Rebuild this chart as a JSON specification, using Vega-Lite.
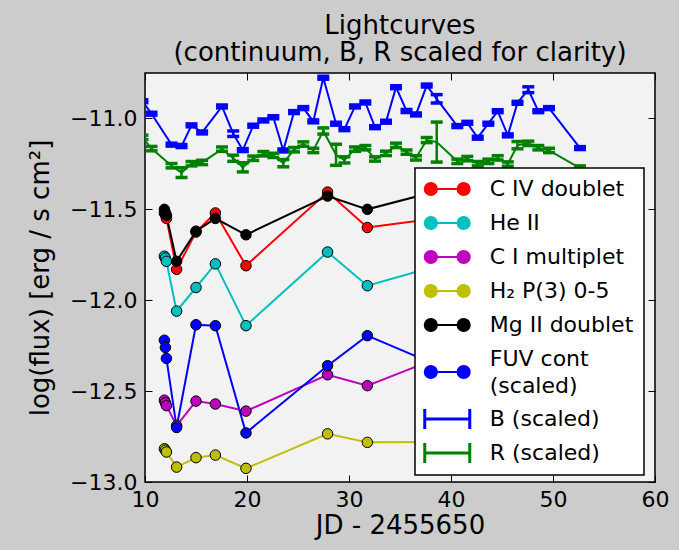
{
  "$schema": "https://vega.github.io/schema/vega-lite/v6.json",
  "width": 510,
  "height": 409,
  "autosize": {"type": "none"},
  "padding": {"left": 145, "top": 73, "right": 24, "bottom": 68},
  "background": "#cccccc",
  "title": {
    "text": ["Lightcurves", "(continuum, B, R scaled for clarity)"],
    "fontSize": 26,
    "fontWeight": "normal",
    "font": "DejaVu Sans",
    "color": "black",
    "anchor": "middle",
    "offset": 7,
    "lineHeight": 27
  },
  "config": {
    "font": "DejaVu Sans",
    "view": {"stroke": "black", "strokeWidth": 1.5, "fill": "#f2f2f2"},
    "axis": {
      "labelFont": "DejaVu Sans",
      "labelFontSize": 22,
      "labelColor": "black",
      "labelFlush": false,
      "labelOverlap": false,
      "labelBound": false,
      "titleFont": "DejaVu Sans",
      "titleFontSize": 26,
      "titleFontWeight": "normal",
      "titleColor": "black",
      "tickColor": "black",
      "tickWidth": 1,
      "grid": false,
      "domain": false
    }
  },
  "datasets": {
    "lines": [
      {"s": "C IV doublet", "jd": 11.9, "f": -11.52},
      {"s": "C IV doublet", "jd": 12.0, "f": -11.53},
      {"s": "C IV doublet", "jd": 12.1, "f": -11.55},
      {"s": "C IV doublet", "jd": 13.1, "f": -11.83},
      {"s": "C IV doublet", "jd": 15.0, "f": -11.625},
      {"s": "C IV doublet", "jd": 16.9, "f": -11.52},
      {"s": "C IV doublet", "jd": 19.9, "f": -11.81},
      {"s": "C IV doublet", "jd": 27.9, "f": -11.405},
      {"s": "C IV doublet", "jd": 31.8, "f": -11.6},
      {"s": "C IV doublet", "jd": 40.0, "f": -11.54},
      {"s": "He II", "jd": 11.9, "f": -11.758},
      {"s": "He II", "jd": 12.0, "f": -11.768},
      {"s": "He II", "jd": 12.1, "f": -11.786},
      {"s": "He II", "jd": 13.1, "f": -12.06},
      {"s": "He II", "jd": 15.0, "f": -11.93},
      {"s": "He II", "jd": 16.9, "f": -11.8},
      {"s": "He II", "jd": 19.9, "f": -12.14},
      {"s": "He II", "jd": 27.9, "f": -11.735},
      {"s": "He II", "jd": 31.8, "f": -11.92},
      {"s": "He II", "jd": 40.0, "f": -11.79},
      {"s": "C I multiplet", "jd": 11.9, "f": -12.55},
      {"s": "C I multiplet", "jd": 12.0, "f": -12.564},
      {"s": "C I multiplet", "jd": 12.1, "f": -12.58},
      {"s": "C I multiplet", "jd": 13.1, "f": -12.69},
      {"s": "C I multiplet", "jd": 15.0, "f": -12.555},
      {"s": "C I multiplet", "jd": 16.9, "f": -12.571},
      {"s": "C I multiplet", "jd": 19.9, "f": -12.61},
      {"s": "C I multiplet", "jd": 27.9, "f": -12.41},
      {"s": "C I multiplet", "jd": 31.8, "f": -12.47},
      {"s": "C I multiplet", "jd": 40.0, "f": -12.29},
      {"s": "H₂ P(3) 0-5", "jd": 11.9, "f": -12.817},
      {"s": "H₂ P(3) 0-5", "jd": 12.0, "f": -12.825},
      {"s": "H₂ P(3) 0-5", "jd": 12.1, "f": -12.835},
      {"s": "H₂ P(3) 0-5", "jd": 13.1, "f": -12.918},
      {"s": "H₂ P(3) 0-5", "jd": 15.0, "f": -12.866},
      {"s": "H₂ P(3) 0-5", "jd": 16.9, "f": -12.852},
      {"s": "H₂ P(3) 0-5", "jd": 19.9, "f": -12.925},
      {"s": "H₂ P(3) 0-5", "jd": 27.9, "f": -12.735},
      {"s": "H₂ P(3) 0-5", "jd": 31.8, "f": -12.782},
      {"s": "H₂ P(3) 0-5", "jd": 40.0, "f": -12.78},
      {"s": "Mg II doublet", "jd": 11.9, "f": -11.5},
      {"s": "Mg II doublet", "jd": 12.0, "f": -11.518},
      {"s": "Mg II doublet", "jd": 12.1, "f": -11.533},
      {"s": "Mg II doublet", "jd": 13.1, "f": -11.786},
      {"s": "Mg II doublet", "jd": 15.0, "f": -11.62},
      {"s": "Mg II doublet", "jd": 16.9, "f": -11.55},
      {"s": "Mg II doublet", "jd": 19.9, "f": -11.64},
      {"s": "Mg II doublet", "jd": 27.9, "f": -11.427},
      {"s": "Mg II doublet", "jd": 31.8, "f": -11.5},
      {"s": "Mg II doublet", "jd": 40.0, "f": -11.38},
      {"s": "FUV cont (scaled)", "jd": 11.9, "f": -12.22},
      {"s": "FUV cont (scaled)", "jd": 12.0, "f": -12.26},
      {"s": "FUV cont (scaled)", "jd": 12.1, "f": -12.32},
      {"s": "FUV cont (scaled)", "jd": 13.1, "f": -12.7},
      {"s": "FUV cont (scaled)", "jd": 15.0, "f": -12.135},
      {"s": "FUV cont (scaled)", "jd": 16.9, "f": -12.14},
      {"s": "FUV cont (scaled)", "jd": 19.9, "f": -12.73},
      {"s": "FUV cont (scaled)", "jd": 27.9, "f": -12.36},
      {"s": "FUV cont (scaled)", "jd": 31.8, "f": -12.195},
      {"s": "FUV cont (scaled)", "jd": 40.0, "f": -12.39}
    ],
    "bands": [
      {"s": "B (scaled)", "jd": 9.75, "f": -10.905, "lo": -10.913, "hi": -10.897},
      {"s": "B (scaled)", "jd": 10.64, "f": -10.974, "lo": -10.982, "hi": -10.966},
      {"s": "B (scaled)", "jd": 12.6, "f": -11.144, "lo": -11.152, "hi": -11.136},
      {"s": "B (scaled)", "jd": 13.58, "f": -11.152, "lo": -11.16, "hi": -11.144},
      {"s": "B (scaled)", "jd": 14.56, "f": -11.038, "lo": -11.046, "hi": -11.03},
      {"s": "B (scaled)", "jd": 15.6, "f": -11.077, "lo": -11.085, "hi": -11.069},
      {"s": "B (scaled)", "jd": 17.55, "f": -10.934, "lo": -10.942, "hi": -10.926},
      {"s": "B (scaled)", "jd": 18.65, "f": -11.084, "lo": -11.099, "hi": -11.069},
      {"s": "B (scaled)", "jd": 19.59, "f": -11.174, "lo": -11.182, "hi": -11.166},
      {"s": "B (scaled)", "jd": 20.61, "f": -11.04, "lo": -11.048, "hi": -11.032},
      {"s": "B (scaled)", "jd": 21.6, "f": -11.011, "lo": -11.019, "hi": -11.003},
      {"s": "B (scaled)", "jd": 22.58, "f": -10.993, "lo": -11.001, "hi": -10.985},
      {"s": "B (scaled)", "jd": 23.56, "f": -11.176, "lo": -11.184, "hi": -11.168},
      {"s": "B (scaled)", "jd": 24.61, "f": -10.965, "lo": -10.973, "hi": -10.957},
      {"s": "B (scaled)", "jd": 25.52, "f": -10.943, "lo": -10.951, "hi": -10.935},
      {"s": "B (scaled)", "jd": 26.5, "f": -11.016, "lo": -11.024, "hi": -11.008},
      {"s": "B (scaled)", "jd": 27.48, "f": -10.776, "lo": -10.784, "hi": -10.768},
      {"s": "B (scaled)", "jd": 28.73, "f": -11.029, "lo": -11.037, "hi": -11.021},
      {"s": "B (scaled)", "jd": 29.55, "f": -11.059, "lo": -11.067, "hi": -11.051},
      {"s": "B (scaled)", "jd": 30.59, "f": -10.934, "lo": -10.942, "hi": -10.926},
      {"s": "B (scaled)", "jd": 31.6, "f": -10.912, "lo": -10.92, "hi": -10.904},
      {"s": "B (scaled)", "jd": 32.55, "f": -11.048, "lo": -11.056, "hi": -11.04},
      {"s": "B (scaled)", "jd": 33.63, "f": -11.018, "lo": -11.026, "hi": -11.01},
      {"s": "B (scaled)", "jd": 34.61, "f": -10.828, "lo": -10.836, "hi": -10.82},
      {"s": "B (scaled)", "jd": 35.64, "f": -10.959, "lo": -10.967, "hi": -10.951},
      {"s": "B (scaled)", "jd": 36.57, "f": -10.978, "lo": -10.986, "hi": -10.97},
      {"s": "B (scaled)", "jd": 37.62, "f": -10.819, "lo": -10.827, "hi": -10.811},
      {"s": "B (scaled)", "jd": 38.6, "f": -10.892, "lo": -10.915, "hi": -10.869},
      {"s": "B (scaled)", "jd": 40.62, "f": -11.042, "lo": -11.05, "hi": -11.034},
      {"s": "B (scaled)", "jd": 41.6, "f": -11.024, "lo": -11.032, "hi": -11.016},
      {"s": "B (scaled)", "jd": 42.62, "f": -11.106, "lo": -11.114, "hi": -11.098},
      {"s": "B (scaled)", "jd": 43.66, "f": -11.029, "lo": -11.037, "hi": -11.021},
      {"s": "B (scaled)", "jd": 44.58, "f": -10.96, "lo": -10.968, "hi": -10.952},
      {"s": "B (scaled)", "jd": 45.57, "f": -11.093, "lo": -11.101, "hi": -11.085},
      {"s": "B (scaled)", "jd": 46.52, "f": -10.914, "lo": -10.922, "hi": -10.906},
      {"s": "B (scaled)", "jd": 47.58, "f": -10.842, "lo": -10.858, "hi": -10.826},
      {"s": "B (scaled)", "jd": 48.56, "f": -10.96, "lo": -10.968, "hi": -10.952},
      {"s": "B (scaled)", "jd": 49.61, "f": -10.943, "lo": -10.951, "hi": -10.935},
      {"s": "B (scaled)", "jd": 52.65, "f": -11.163, "lo": -11.171, "hi": -11.155},
      {"s": "R (scaled)", "jd": 9.75, "f": -11.104, "lo": -11.116, "hi": -11.092},
      {"s": "R (scaled)", "jd": 10.64, "f": -11.166, "lo": -11.178, "hi": -11.154},
      {"s": "R (scaled)", "jd": 12.6, "f": -11.26, "lo": -11.272, "hi": -11.248},
      {"s": "R (scaled)", "jd": 13.58, "f": -11.298, "lo": -11.325, "hi": -11.271},
      {"s": "R (scaled)", "jd": 14.56, "f": -11.249, "lo": -11.261, "hi": -11.237},
      {"s": "R (scaled)", "jd": 15.6, "f": -11.242, "lo": -11.254, "hi": -11.23},
      {"s": "R (scaled)", "jd": 17.55, "f": -11.169, "lo": -11.181, "hi": -11.157},
      {"s": "R (scaled)", "jd": 18.65, "f": -11.219, "lo": -11.236, "hi": -11.202},
      {"s": "R (scaled)", "jd": 19.59, "f": -11.269, "lo": -11.294, "hi": -11.244},
      {"s": "R (scaled)", "jd": 20.61, "f": -11.219, "lo": -11.231, "hi": -11.207},
      {"s": "R (scaled)", "jd": 21.6, "f": -11.194, "lo": -11.206, "hi": -11.182},
      {"s": "R (scaled)", "jd": 22.58, "f": -11.203, "lo": -11.215, "hi": -11.191},
      {"s": "R (scaled)", "jd": 23.56, "f": -11.246, "lo": -11.266, "hi": -11.226},
      {"s": "R (scaled)", "jd": 24.61, "f": -11.172, "lo": -11.184, "hi": -11.16},
      {"s": "R (scaled)", "jd": 25.52, "f": -11.141, "lo": -11.153, "hi": -11.129},
      {"s": "R (scaled)", "jd": 26.5, "f": -11.176, "lo": -11.188, "hi": -11.164},
      {"s": "R (scaled)", "jd": 27.48, "f": -11.069, "lo": -11.086, "hi": -11.052},
      {"s": "R (scaled)", "jd": 28.73, "f": -11.2, "lo": -11.258, "hi": -11.142},
      {"s": "R (scaled)", "jd": 29.55, "f": -11.228, "lo": -11.245, "hi": -11.211},
      {"s": "R (scaled)", "jd": 30.59, "f": -11.169, "lo": -11.181, "hi": -11.157},
      {"s": "R (scaled)", "jd": 31.6, "f": -11.161, "lo": -11.173, "hi": -11.149},
      {"s": "R (scaled)", "jd": 32.55, "f": -11.223, "lo": -11.235, "hi": -11.211},
      {"s": "R (scaled)", "jd": 33.63, "f": -11.192, "lo": -11.204, "hi": -11.18},
      {"s": "R (scaled)", "jd": 34.61, "f": -11.148, "lo": -11.16, "hi": -11.136},
      {"s": "R (scaled)", "jd": 35.64, "f": -11.185, "lo": -11.197, "hi": -11.173},
      {"s": "R (scaled)", "jd": 36.57, "f": -11.217, "lo": -11.229, "hi": -11.205},
      {"s": "R (scaled)", "jd": 37.62, "f": -11.119, "lo": -11.133, "hi": -11.105},
      {"s": "R (scaled)", "jd": 38.6, "f": -11.13, "lo": -11.24, "hi": -11.02},
      {"s": "R (scaled)", "jd": 40.62, "f": -11.236, "lo": -11.248, "hi": -11.224},
      {"s": "R (scaled)", "jd": 41.6, "f": -11.221, "lo": -11.233, "hi": -11.209},
      {"s": "R (scaled)", "jd": 42.62, "f": -11.249, "lo": -11.261, "hi": -11.237},
      {"s": "R (scaled)", "jd": 43.66, "f": -11.236, "lo": -11.248, "hi": -11.224},
      {"s": "R (scaled)", "jd": 44.58, "f": -11.217, "lo": -11.229, "hi": -11.205},
      {"s": "R (scaled)", "jd": 45.57, "f": -11.251, "lo": -11.263, "hi": -11.239},
      {"s": "R (scaled)", "jd": 46.52, "f": -11.147, "lo": -11.167, "hi": -11.127},
      {"s": "R (scaled)", "jd": 47.58, "f": -11.137, "lo": -11.149, "hi": -11.125},
      {"s": "R (scaled)", "jd": 48.56, "f": -11.161, "lo": -11.173, "hi": -11.149},
      {"s": "R (scaled)", "jd": 49.61, "f": -11.176, "lo": -11.188, "hi": -11.164},
      {"s": "R (scaled)", "jd": 52.65, "f": -11.273, "lo": -11.285, "hi": -11.261}
    ]
  },
  "resolve": {"axis": {"x": "independent", "y": "independent"}},
  "layer": [
    {
      "data": {"name": "lines"},
      "mark": {"type": "line", "strokeWidth": 2, "clip": true},
      "encoding": {
        "x": {
          "field": "jd", "type": "quantitative",
          "scale": {"domain": [10, 60], "nice": false, "zero": false},
          "axis": {
            "orient": "bottom", "values": [10, 20, 30, 40, 50, 60], "format": "d",
            "tickSize": -7, "labelPadding": 14, "title": "JD - 2455650", "titlePadding": 2
          }
        },
        "y": {
          "field": "f", "type": "quantitative",
          "scale": {"domain": [-13, -10.75], "nice": false, "zero": false},
          "axis": {
            "orient": "left", "values": [-13, -12.5, -12, -11.5, -11], "format": ".1f",
            "tickSize": -7, "labelPadding": 15, "title": "log(flux) [erg / s cm²]", "titlePadding": 16
          }
        },
        "color": {
          "field": "s", "type": "nominal",
          "scale": {
            "domain": ["C IV doublet", "He II", "C I multiplet", "H₂ P(3) 0-5", "Mg II doublet", "FUV cont (scaled)", "B (scaled)", "R (scaled)"],
            "range": ["#ff0000", "#00bfbf", "#bf00bf", "#bfbf00", "#000000", "#0000ff", "#0000ff", "#008000"]
          },
          "legend": {
            "orient": "none",
            "legendX": 270,
            "legendY": 95,
            "title": null,
            "fillColor": "white",
            "strokeColor": "black",
            "padding": 10,
            "labelFont": "DejaVu Sans",
            "labelFontSize": 22,
            "labelColor": "black",
            "labelLimit": 400,
            "labelOffset": 31.5,
            "symbolOffset": 11.25,
            "rowPadding": 10,
            "symbolSize": 2025,
            "symbolOpacity": 1,
            "labelExpr": "datum.label == 'FUV cont (scaled)' ? ['FUV cont', '(scaled)'] : datum.label",
            "encode": {
              "legend": {"update": {"strokeWidth": {"value": 1.5}}},
              "labels": {
                "update": {
                  "lineHeight": {"value": 27},
                  "dy": {"signal": "datum.value == 'FUV cont (scaled)' ? -13.5 : 0"}
                }
              },
              "symbols": {
                "update": {
                  "fill": {"scale": "color", "field": "value"},
                  "stroke": {"scale": "color", "field": "value"},
                  "strokeJoin": {"value": "round"},
                  "strokeWidth": {"signal": "indexof(['B (scaled)', 'R (scaled)'], datum.value) >= 0 ? 3 : 2"},
                  "shape": {"signal": "indexof(['B (scaled)', 'R (scaled)'], datum.value) >= 0 ? 'M -1 -0.44 L -1 0.44 M 1 -0.44 L 1 0.44 M -1 0 L 1 0' : 'M 0 -0.467 M 0 0.467 M -1 0 A 0.27 0.27 0 1 0 -0.46 0 A 0.27 0.27 0 1 0 -1 0 Z M -0.46 0 L 0.46 0 M 0.46 0 A 0.27 0.27 0 1 0 1 0 A 0.27 0.27 0 1 0 0.46 0 Z'"},
                  "opacity": {"value": 1}
                }
              }
            }
          }
        }
      }
    },
    {
      "data": {"name": "lines"},
      "mark": {"type": "point", "filled": true, "shape": "circle", "size": 110, "stroke": "black", "strokeWidth": 1, "opacity": 1, "clip": true},
      "encoding": {
        "x": {"field": "jd", "type": "quantitative", "axis": {"orient": "top", "values": [10, 20, 30, 40, 50, 60], "labels": false, "tickSize": -7, "title": null}},
        "y": {"field": "f", "type": "quantitative", "axis": {"orient": "right", "values": [-13, -12.5, -12, -11.5, -11], "labels": false, "tickSize": -7, "title": null}},
        "color": {"field": "s", "type": "nominal", "legend": null}
      }
    },
    {
      "data": {"name": "bands"},
      "mark": {"type": "line", "strokeWidth": 2, "clip": true},
      "encoding": {
        "x": {"field": "jd", "type": "quantitative", "axis": null},
        "y": {"field": "f", "type": "quantitative", "axis": null},
        "color": {"field": "s", "type": "nominal", "legend": null}
      }
    },
    {
      "data": {"name": "bands"},
      "mark": {"type": "rule", "strokeWidth": 2.5, "clip": true},
      "encoding": {
        "x": {"field": "jd", "type": "quantitative", "axis": null},
        "y": {"field": "lo", "type": "quantitative", "axis": null},
        "y2": {"field": "hi"},
        "color": {"field": "s", "type": "nominal", "legend": null}
      }
    },
    {
      "data": {"name": "bands"},
      "mark": {"type": "tick", "orient": "horizontal", "thickness": 3.5, "size": 12, "opacity": 1, "clip": true},
      "encoding": {
        "x": {"field": "jd", "type": "quantitative", "axis": null},
        "y": {"field": "lo", "type": "quantitative", "axis": null},
        "color": {"field": "s", "type": "nominal", "legend": null}
      }
    },
    {
      "data": {"name": "bands"},
      "mark": {"type": "tick", "orient": "horizontal", "thickness": 3.5, "size": 12, "opacity": 1, "clip": true},
      "encoding": {
        "x": {"field": "jd", "type": "quantitative", "axis": null},
        "y": {"field": "hi", "type": "quantitative", "axis": null},
        "color": {"field": "s", "type": "nominal", "legend": null}
      }
    }
  ]
}
